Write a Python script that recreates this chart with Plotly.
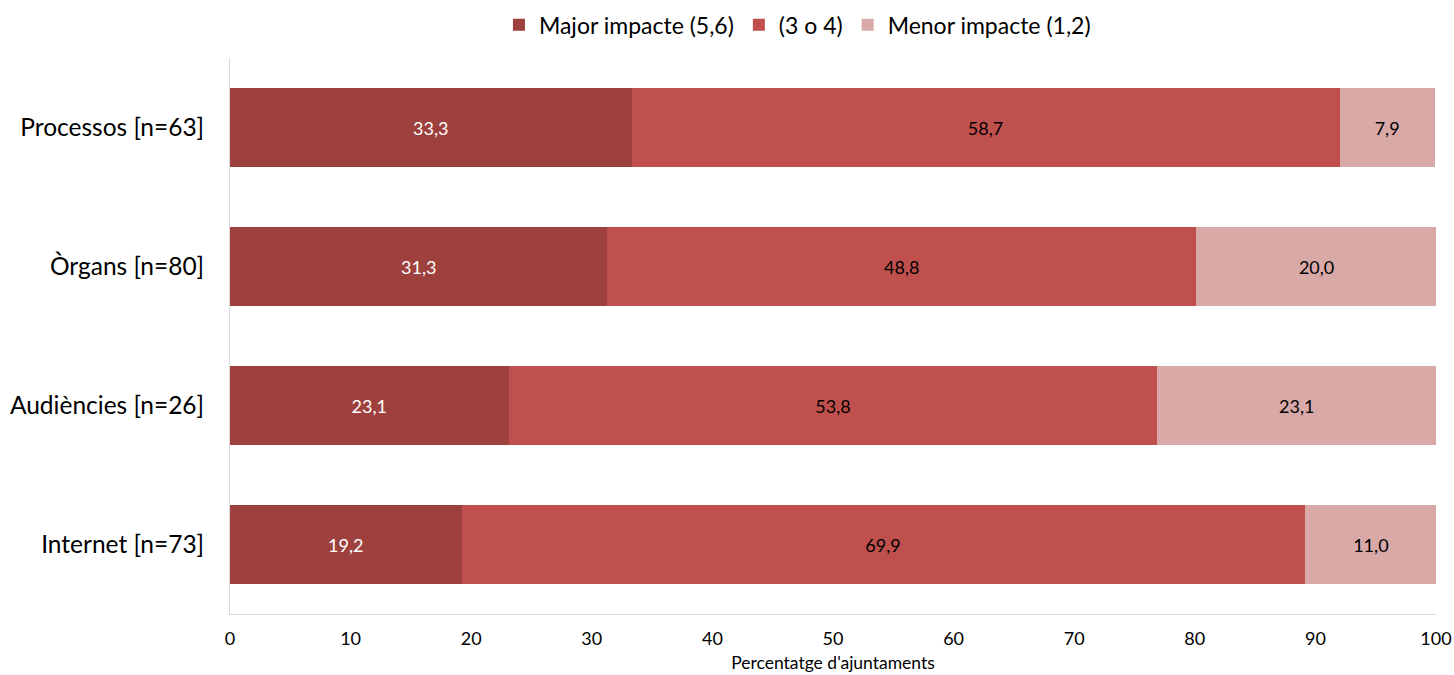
import plotly.graph_objects as go

categories = ["Processos [n=63]", "Òrgans [n=80]", "Audiències [n=26]", "Internet [n=73]"]
series_names = ["Major impacte (5,6)", "(3 o 4)", "Menor impacte (1,2)"]
major = [33.3, 31.3, 23.1, 19.2]
mid = [58.7, 48.8, 53.8, 69.9]
menor = [7.9, 20.0, 23.1, 11.0]
x_ticks = [0, 10, 20, 30, 40, 50, 60, 70, 80, 90, 100]

colors = ["#9E413E", "#C0504D", "#D9A9A8"]
text_colors = ["white", "black", "black"]
FONT = "Lato, 'Open Sans', sans-serif"

fig = go.Figure()
for name, vals, c, tc in zip(series_names, [major, mid, menor], colors, text_colors):
    fig.add_trace(go.Bar(
        y=categories, x=vals, name=name, orientation="h",
        marker=dict(color=c, line=dict(width=0)),
        texttemplate="%{x:.1f}", textposition="inside", insidetextanchor="middle",
        textfont=dict(color=tc, size=18, family=FONT),
        width=0.57,
    ))

fig.update_layout(
    barmode="stack",
    separators=",.",
    width=1454, height=675,
    margin=dict(l=230, r=18, t=58, b=61, autoexpand=False),
    plot_bgcolor="white", paper_bgcolor="white",
    font=dict(family=FONT, color="black"),
    legend=dict(orientation="h", x=0.4705, xanchor="center", y=0.995, yanchor="top",
                yref="container", font=dict(size=23), traceorder="normal"),
    xaxis=dict(range=[0, 100], tickvals=x_ticks, showgrid=False, zeroline=False,
               showline=True, linecolor="#D9D9D9", linewidth=1, ticks="", automargin=False,
               ticklabelstandoff=8,
               tickfont=dict(size=18), title=dict(text="Percentatge d'ajuntaments", font=dict(size=17.5), standoff=9)),
    yaxis=dict(categoryorder="array", categoryarray=categories[::-1], showgrid=False, automargin=False,
               showline=True, linecolor="#D9D9D9", linewidth=1, ticks="", ticklen=0,
               ticklabelstandoff=20, tickfont=dict(size=24.5)),
    bargap=0.43,
)
fig.write_html("out.html", config={"displayModeBar": False},
               post_script="document.body.style.margin='0';document.body.style.overflow='hidden';")
